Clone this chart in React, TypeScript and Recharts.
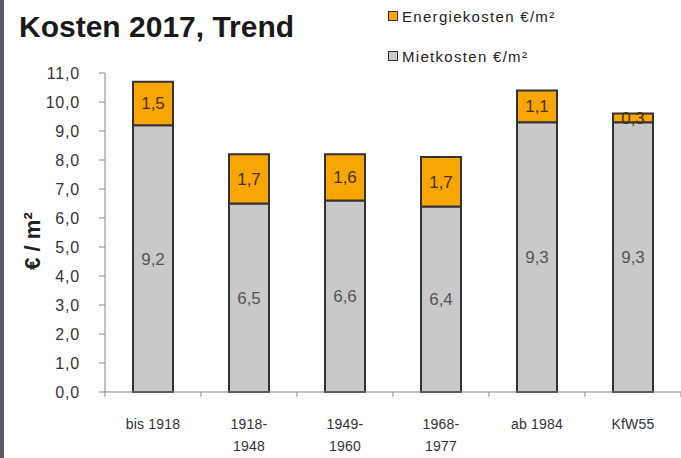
import { BarChart, Bar, XAxis, YAxis, LabelList } from 'recharts';

const categories = ['bis 1918', '1918-|1948', '1949-|1960', '1968-|1977', 'ab 1984', 'KfW55'];
const mietkosten = [9.2, 6.5, 6.6, 6.4, 9.3, 9.3];
const energiekosten = [1.5, 1.7, 1.6, 1.7, 1.1, 0.3];
const yTicks = [0, 1, 2, 3, 4, 5, 6, 7, 8, 9, 10, 11];

const data = categories.map((name, i) => ({
  name,
  miete: mietkosten[i],
  energie: energiekosten[i],
}));

const FONT = '"Liberation Sans", Arial, sans-serif';
const ORANGE = '#f8a603';
const GREY = '#c9c9c9';
const EDGE = '#333';

const fmt = (v: any) => Number(v).toFixed(1).replace('.', ',');

function XTick(props: any) {
  const { x, y, payload, index } = props;
  const half = payload?.offset || 48;
  const lines = String(payload.value).split('|');
  return (
    <g>
      <line x1={x - half} x2={x - half} y1={y} y2={y + 5} stroke="#888" />
      {index === categories.length - 1 && <line x1={x + half} x2={x + half} y1={y} y2={y + 5} stroke="#888" />}
      <text x={x} y={y + 37} textAnchor="middle" fontFamily={FONT} fontSize={14} fill="#333" letterSpacing={0.2}>
        {lines.map((l, i) => (
          <tspan key={i} x={x} dy={i === 0 ? 0 : 22}>{l}</tspan>
        ))}
      </text>
    </g>
  );
}

function YLabel() {
  return (
    <text x={32} y={241} transform="rotate(-90 32 241)" textAnchor="middle" dominantBaseline="central"
      fontFamily={FONT} fontSize={22} fontWeight="bold" fill="#222">
      € / m²
    </text>
  );
}

export default function App() {
  return (
    <div style={{ position: 'fixed', left: 0, top: 0, width: 681, height: 458, background: '#fff', overflow: 'hidden' }}>
      <div style={{ position: 'absolute', left: 0, top: 0, width: 4, height: 458, background: '#555a63' }} />
      <div style={{ position: 'absolute', left: 19, top: 10, fontFamily: FONT, fontSize: 30, fontWeight: 'bold', color: '#1a1a1a', whiteSpace: 'nowrap' }}>
        Kosten 2017, Trend
      </div>
      <div style={{ position: 'absolute', left: 388, top: 7, fontFamily: FONT, fontSize: 15, color: '#222', letterSpacing: 1.3 }}>
        <div style={{ display: 'flex', alignItems: 'center', height: 18 }}>
          <span style={{ width: 8, height: 8, background: ORANGE, border: '1.5px solid #333', marginRight: 4 }} />
          Energiekosten €/m²
        </div>
        <div style={{ display: 'flex', alignItems: 'center', height: 18, marginTop: 22 }}>
          <span style={{ width: 8, height: 8, background: GREY, border: '1.5px solid #333', marginRight: 4 }} />
          Mietkosten €/m²
        </div>
      </div>
      <BarChart width={681} height={458} data={data} margin={{ top: 73, right: 0, bottom: 0, left: 0 }}
        barSize={40} style={{ position: 'absolute', left: 0, top: 0 }}>
        <XAxis dataKey="name" height={66} axisLine={{ stroke: '#888' }} tickLine={false} tickSize={0} tickMargin={0}
          tick={<XTick />} interval={0} />
        <YAxis width={105} domain={[0, 11]} ticks={yTicks} interval={0} axisLine={{ stroke: '#888' }}
          tickLine={{ stroke: '#888' }} tickSize={6} tickMargin={19} tickFormatter={fmt}
          tick={{ fontFamily: FONT, fontSize: 16, fill: '#333', letterSpacing: 0.8 } as any}
          label={<YLabel />} />
        <Bar dataKey="miete" stackId="a" fill={GREY} stroke={EDGE} strokeWidth={2} isAnimationActive={false}>
          <LabelList dataKey="miete" position="center" formatter={fmt} fontFamily={FONT} fontSize={17} fill="#555" />
        </Bar>
        <Bar dataKey="energie" stackId="a" fill={ORANGE} stroke={EDGE} strokeWidth={2} isAnimationActive={false}>
          <LabelList dataKey="energie" position="center" formatter={fmt} fontFamily={FONT} fontSize={17} fill="#4a3200" />
        </Bar>
      </BarChart>
    </div>
  );
}
